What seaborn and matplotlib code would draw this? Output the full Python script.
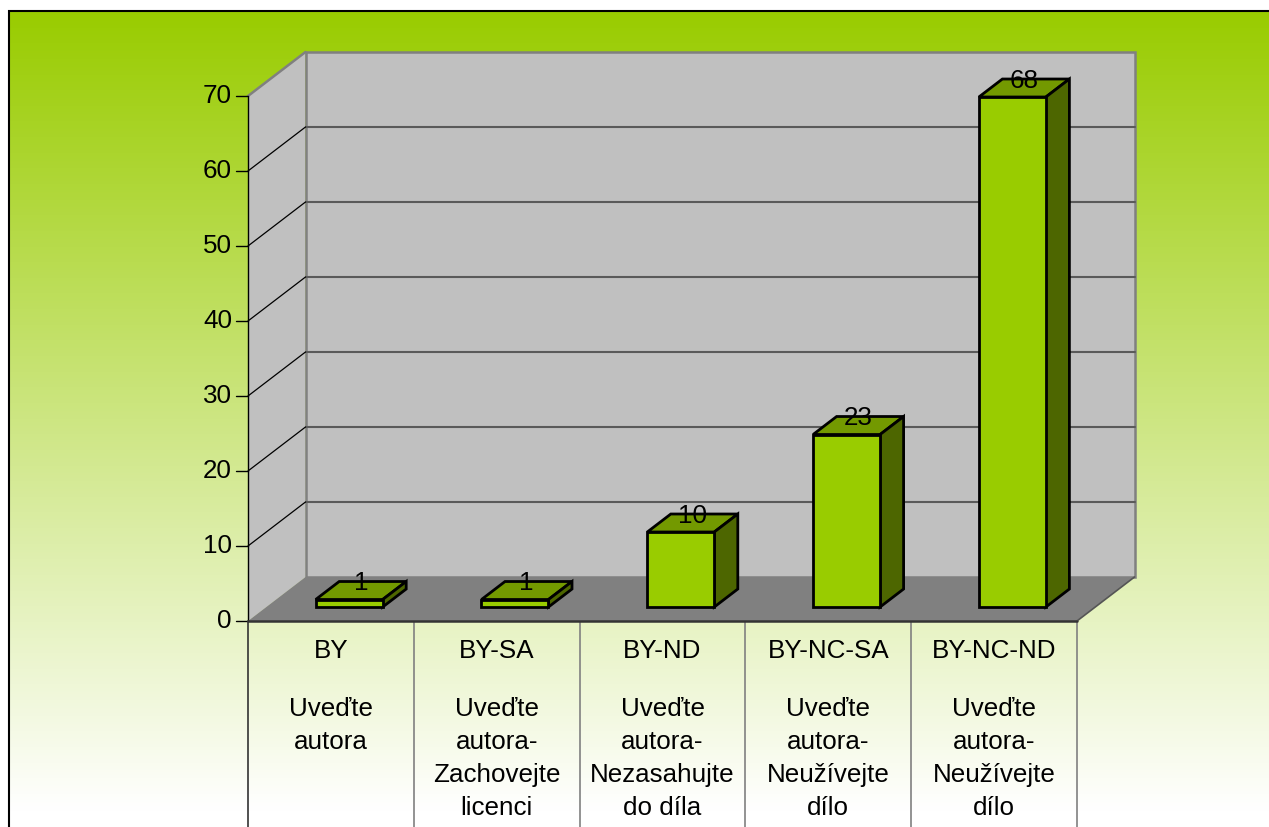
import numpy as np
import pandas as pd
import matplotlib
matplotlib.use("Agg")
import matplotlib.pyplot as plt
from matplotlib.patches import Polygon, Rectangle
from matplotlib.colors import to_rgb
import seaborn as sns

# Data
codes = ["BY", "BY-SA", "BY-ND", "BY-NC-SA", "BY-NC-ND"]
names = ["Uveďte\nautora",
         "Uveďte\nautora-\nZachovejte\nlicenci",
         "Uveďte\nautora-\nNezasahujte\ndo díla",
         "Uveďte\nautora-\nNeužívejte\ndílo",
         "Uveďte\nautora-\nNeužívejte\ndílo"]
counts = [1, 1, 10, 23, 68]
y_ticks = [0, 10, 20, 30, 40, 50, 60, 70]

df = pd.DataFrame({"code": codes, "count": counts})

sns.set_style("white")
plt.rcParams["font.family"] = ["Liberation Sans", "DejaVu Sans"]
plt.rcParams["text.color"] = "black"
FS = 18.7

fig = plt.figure(figsize=(12.69, 8.27), dpi=100)
ax = fig.add_axes([0, 0, 1, 1])

# pixel layout -> data units (category width 165.8 px, 7.5 px per unit)
px_cat = 165.8
px_val = 7.5
xmin, xmax = -0.5 - 248 / px_cat, -0.5 + (1269 - 248) / px_cat
ymin, ymax = -(827 - 621) / px_val, 621 / px_val
dx, dy = 57.5 / px_cat, 44 / px_val    # depth of the floor
f0, f1 = 0.318, 0.727                   # bar front / back depth
bw = 0.404
left, right = -0.5, len(codes) - 0.5
top = y_ticks[-1]

# gradient background box
box_l = xmin + 9 / px_cat
box_t = ymax - 11 / px_val
c_top = np.array(to_rgb("#99cc00"))
c_bot = np.array([1.0, 1.0, 1.0])
t = np.clip(np.linspace(0, 1, 400) * 1.03, 0, 1)[:, None]
grad = (c_top * (1 - t) + c_bot * t)[:, None, :]
ax.imshow(grad, extent=[box_l, xmax + 0.1, ymin - 1, box_t], aspect="auto",
          zorder=0, interpolation="bilinear")
ax.plot([box_l, box_l, xmax + 0.1], [ymin - 1, box_t, box_t], color="black",
        lw=1.5, zorder=1, solid_joinstyle="miter")

# walls and floor
side = Polygon([(left, 0), (left, top), (left + dx, top + dy), (left + dx, dy)],
               closed=True, fc="#c0c0c0", ec="none", zorder=1)
back = Rectangle((left + dx, dy), right - left, top, fc="#c0c0c0", ec="#808080",
                 lw=1.8, zorder=1)
floor = Polygon([(left, 0), (right, 0), (right + dx, dy), (left + dx, dy)],
                closed=True, fc="#808080", ec="none", zorder=1.5)
ax.add_patch(side)
ax.add_patch(back)
ax.add_patch(floor)
ax.plot([left, left + dx], [top, top + dy], color="#808080", lw=1.8, zorder=2)
ax.plot([right, right + dx], [0, dy], color="#555555", lw=1.2, zorder=2)
for v in y_ticks[1:-1]:
    ax.plot([left + dx, right + dx], [v + dy, v + dy], color="#5a5a5a", lw=1.5, zorder=1.2)
    ax.plot([left, left + dx], [v, v + dy], color="black", lw=0.9, zorder=1.2)

# y axis
ax.plot([left, left], [0, top], color="black", lw=1.0, zorder=2)
tick_len = 12 / px_cat
for v in y_ticks:
    ax.plot([left - tick_len, left], [v, v], color="black", lw=1.0, zorder=2)
    ax.text(left - 16 / px_cat, v, str(v), ha="right", va="center", fontsize=FS,
            color="black", zorder=3)

# table below the floor
ax.plot([left, right], [0, 0], color="#333333", lw=1.8, zorder=2.5)
for k in range(len(codes) + 1):
    ax.plot([left + k, left + k], [ymin - 1, 0],
            color="#333333" if k == 0 else "#808080", lw=1.2, zorder=2)
for i, (c, n) in enumerate(zip(codes, names)):
    ax.text(i, -(651 - 621) / px_val, c, ha="center", va="center", fontsize=FS,
            color="black", zorder=3)
    ax.text(i, -(697 - 621) / px_val, n, ha="center", va="top", fontsize=FS,
            color="black", linespacing=1.48, zorder=3)

# front faces of the bars
sns.barplot(data=df, x="code", y="count", width=bw, color="#99cc00",
            saturation=1, edgecolor="black", linewidth=2, errorbar=None,
            ax=ax, zorder=4)
bx, by = (f1 - f0) * dx, (f1 - f0) * dy
for p, v in zip(ax.patches[-len(counts):], counts):
    p.set_x(p.get_x() + f0 * dx)
    p.set_y(f0 * dy)
    x0 = p.get_x()
    x1 = x0 + p.get_width()
    y0 = f0 * dy
    y1 = y0 + v
    ax.add_patch(Polygon([(x0, y1), (x1, y1), (x1 + bx, y1 + by), (x0 + bx, y1 + by)],
                         closed=True, fc="#739900", ec="black", lw=2, zorder=3.5,
                         joinstyle="miter"))
    ax.add_patch(Polygon([(x1, y0), (x1 + bx, y0 + by), (x1 + bx, y1 + by), (x1, y1)],
                         closed=True, fc="#4d6600", ec="black", lw=2, zorder=3.5,
                         joinstyle="miter"))
    ax.text((x0 + x1 + bx) / 2, y1 + by / 2 - 0.6, str(v), ha="center", va="bottom",
            fontsize=FS, color="black", zorder=5)

ax.set_xlim(xmin, xmax)
ax.set_ylim(ymin, ymax)
ax.set_axis_off()
fig.patch.set_facecolor("white")

fig.savefig("out.png", dpi=100, facecolor="white")
